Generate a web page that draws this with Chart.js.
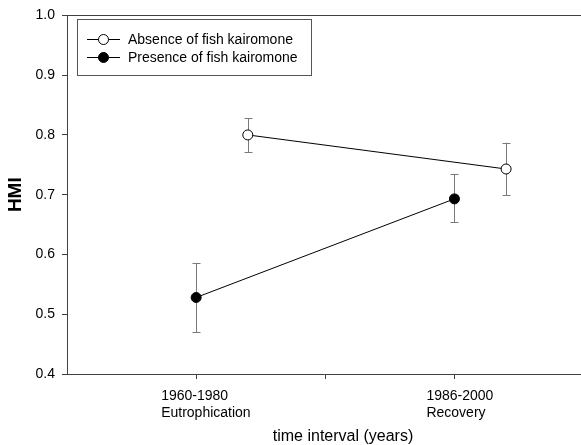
<!DOCTYPE html>
<html>
<head>
<meta charset="utf-8">
<script src="https://cdn.jsdelivr.net/npm/chart.js@4.4.1/dist/chart.umd.min.js"></script>
<style>
  body { margin: 0; background: #fff; }
  canvas { display: block; }
</style>
</head>
<body>
<canvas id="chartHMI" width="581" height="445"></canvas>
<script>
// categorias do eixo x (duas linhas cada)
const categories = [['1960-1980', 'Eutrophication'], ['1986-2000', 'Recovery']];
const categoryX = [1, 2];
const midTicksX = [1.5];
const yTicks = [0.4, 0.5, 0.6, 0.7, 0.8, 0.9, 1.0];

// ausencia de kairomona (circulo aberto)
const absenceX = [1.2, 2.2];
const absenceHMI = [0.800, 0.743];
const absenceUpper = [0.828, 0.787];
const absenceLower = [0.771, 0.699];

// presenca de kairomona (circulo cheio)
const presenceX = [1, 2];
const presenceHMI = [0.528, 0.693];
const presenceUpper = [0.586, 0.734];
const presenceLower = [0.470, 0.654];

const FONT = '"Liberation Sans", Arial, sans-serif';
const AXIS_COLOR = '#404040';
const labelShift = [-35, -28];

const errorSets = [
    { xs: absenceX, upper: absenceUpper, lower: absenceLower },
    { xs: presenceX, upper: presenceUpper, lower: presenceLower }
];

const errorBarsPlugin = {
    id: 'errorBars',
    beforeDatasetsDraw(chart) {
        const { ctx, scales: { x, y } } = chart;
        ctx.save();
        ctx.strokeStyle = '#7a7a7a';
        ctx.lineWidth = 1;
        errorSets.forEach(set => {
            set.xs.forEach((xv, i) => {
                const px = Math.round(x.getPixelForValue(xv)) + 0.5;
                const top = y.getPixelForValue(set.upper[i]);
                const bot = y.getPixelForValue(set.lower[i]);
                ctx.beginPath();
                ctx.moveTo(px, top);
                ctx.lineTo(px, bot);
                ctx.moveTo(px - 4, Math.round(top) + 0.5);
                ctx.lineTo(px + 4, Math.round(top) + 0.5);
                ctx.moveTo(px - 4, Math.round(bot) + 0.5);
                ctx.lineTo(px + 4, Math.round(bot) + 0.5);
                ctx.stroke();
            });
        });
        ctx.restore();
    }
};

const framePlugin = {
    id: 'frame',
    afterDraw(chart) {
        const { ctx, chartArea, scales: { x } } = chart;
        ctx.save();
        // linha superior
        ctx.strokeStyle = AXIS_COLOR;
        ctx.lineWidth = 1;
        ctx.beginPath();
        ctx.moveTo(chartArea.left, Math.round(chartArea.top) + 0.5);
        ctx.lineTo(chartArea.right, Math.round(chartArea.top) + 0.5);
        ctx.stroke();

        // rotulos das categorias
        ctx.fillStyle = '#000';
        ctx.font = '14px ' + FONT;
        ctx.textAlign = 'left';
        ctx.textBaseline = 'middle';
        categories.forEach((lines, i) => {
            const px = x.getPixelForValue(categoryX[i]) + labelShift[i];
            lines.forEach((txt, j) => {
                ctx.fillText(txt, px, chartArea.bottom + 22 + j * 17);
            });
        });

        // titulo do eixo x
        ctx.font = '16px ' + FONT;
        ctx.textAlign = 'center';
        ctx.fillText('time interval (years)', 343, 437);

        // legenda
        const bx = 77.5, by = 19.5, bw = 234, bh = 56;
        ctx.strokeStyle = '#555';
        ctx.strokeRect(bx, by, bw, bh);
        chart.data.datasets.forEach((ds, i) => {
            const cy = 39 + i * 18;
            ctx.strokeStyle = '#000';
            ctx.beginPath();
            ctx.moveTo(87, cy + 0.5);
            ctx.lineTo(120, cy + 0.5);
            ctx.stroke();
            ctx.beginPath();
            ctx.arc(103.5, cy + 0.5, 5, 0, Math.PI * 2);
            ctx.fillStyle = ds.pointBackgroundColor;
            ctx.fill();
            ctx.stroke();
            ctx.fillStyle = '#000';
            ctx.font = '14px ' + FONT;
            ctx.textAlign = 'left';
            ctx.fillText(ds.label, 128, cy + 1);
        });
        ctx.restore();
    }
};

const toPoints = (xs, ys) => xs.map((xv, i) => ({ x: xv, y: ys[i] }));

new Chart(document.getElementById('chartHMI'), {
    type: 'scatter',
    data: {
        datasets: [{
            label: 'Absence of fish kairomone',
            data: toPoints(absenceX, absenceHMI),
            showLine: true,
            borderColor: '#000',
            borderWidth: 1,
            pointRadius: 5,
            pointBackgroundColor: '#fff',
            pointBorderColor: '#000',
            pointBorderWidth: 1
        }, {
            label: 'Presence of fish kairomone',
            data: toPoints(presenceX, presenceHMI),
            showLine: true,
            borderColor: '#000',
            borderWidth: 1,
            pointRadius: 5,
            pointBackgroundColor: '#000',
            pointBorderColor: '#000',
            pointBorderWidth: 1
        }]
    },
    options: {
        responsive: false,
        animation: false,
        layout: { autoPadding: false, padding: { left: 0, right: 0, top: 13, bottom: 0 } },
        scales: {
            x: {
                type: 'linear',
                min: 0.5,
                max: 2.49,
                afterBuildTicks: s => { s.ticks = categoryX.concat(midTicksX).sort().map(v => ({ value: v })); },
                afterFit: s => { s.height = 71; },
                ticks: { callback: () => '', padding: 0 },
                grid: { drawOnChartArea: false, drawTicks: true, tickLength: 5, color: AXIS_COLOR },
                border: { color: AXIS_COLOR, width: 1 }
            },
            y: {
                min: 0.4,
                max: 1.0,
                afterBuildTicks: s => { s.ticks = yTicks.map(v => ({ value: v })); },
                afterFit: s => { s.width = 67; },
                ticks: {
                    callback: v => Number(v).toFixed(1),
                    font: { family: FONT, size: 14 },
                    color: '#000',
                    padding: 7
                },
                grid: { drawOnChartArea: false, drawTicks: true, tickLength: 5, color: AXIS_COLOR },
                border: { color: AXIS_COLOR, width: 1 },
                title: {
                    display: true,
                    text: 'HMI',
                    color: '#000',
                    font: { family: FONT, size: 19, weight: 'bold' },
                    padding: { top: 4, bottom: 0 }
                }
            }
        },
        plugins: {
            legend: { display: false },
            tooltip: { enabled: false }
        }
    },
    plugins: [errorBarsPlugin, framePlugin]
});
</script>
</body>
</html>
